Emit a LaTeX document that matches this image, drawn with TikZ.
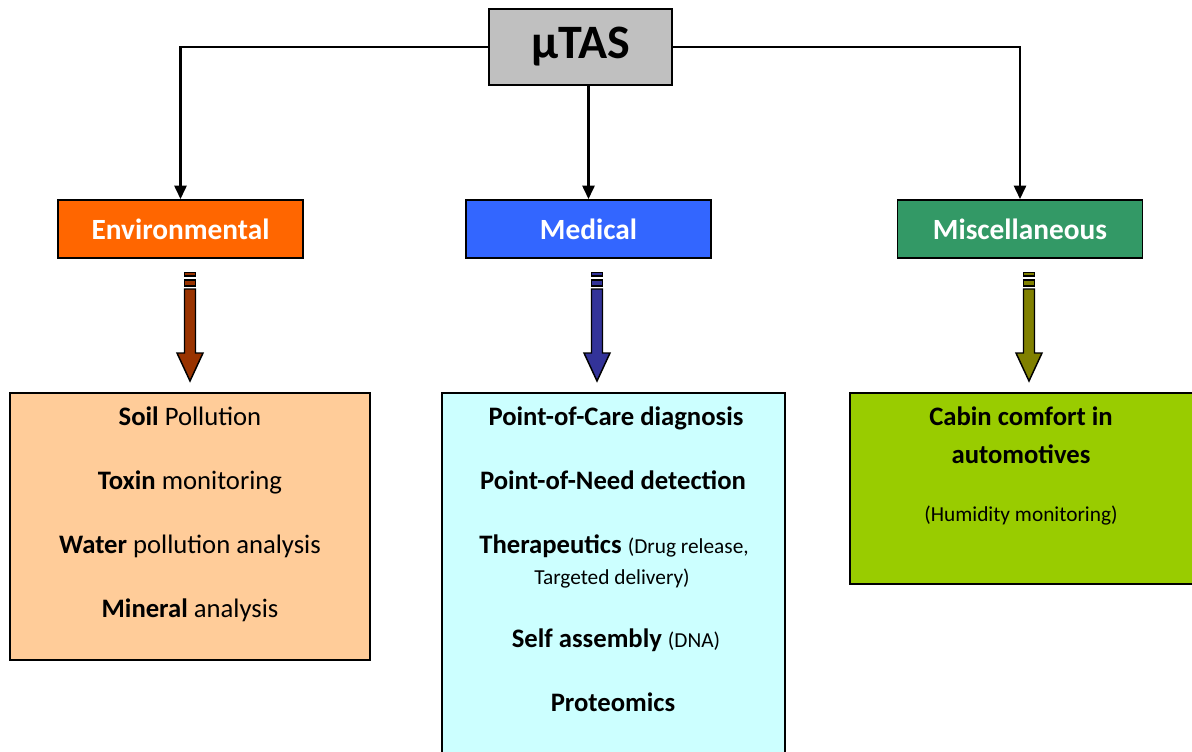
\documentclass[tikz,border=0pt]{standalone}
\usepackage{fontspec}
\setmainfont{Carlito}
\usetikzlibrary{positioning,arrows.meta}
\definecolor{topgray}{HTML}{C0C0C0}
\definecolor{envcol}{HTML}{FF6600}
\definecolor{medcol}{HTML}{3366FF}
\definecolor{misccol}{HTML}{339966}
\definecolor{envfill}{HTML}{FFCC99}
\definecolor{medfill}{HTML}{CCFFFF}
\definecolor{miscfill}{HTML}{99CC00}
\definecolor{envarr}{HTML}{993300}
\definecolor{medarr}{HTML}{333399}
\definecolor{miscarr}{HTML}{808000}

\begin{document}
\begin{tikzpicture}[x=0.75pt, y=-0.75pt,
    head/.style = {draw, line width=1.4pt, minimum width=183.75pt, minimum height=43.5pt, inner sep=0pt, text=white, font=\fontsize{22}{26}\selectfont\bfseries},
    panel/.style = {draw, line width=1.4pt, inner sep=0pt},
    item/.style = {anchor=base, font=\fontsize{20}{24}\selectfont},
    note/.style = {anchor=base, font=\fontsize{16}{19}\selectfont},
    link/.style = {line width=1.8pt, -{Triangle[length=10pt,width=9pt]}},
    blockarr/.style = {draw, line width=1.1pt}]
    \useasboundingbox (0,0) rectangle (1192,751);
    \clip (0,0) rectangle (1192,751);

    \node[draw, line width=1.4pt, fill=topgray, minimum width=137.25pt, minimum height=57pt, inner sep=0pt, font=\fontsize{36}{40}\selectfont\bfseries](top) at (580.5,47){μTAS};

    \node[head, fill=envcol](env) at (180.5,229){Environmental};
    \node[head, fill=medcol](med) at (588.5,229){Medical};
    \node[head, fill=misccol](misc) at (1020,229){Miscellaneous};

    \draw[link] (top.west) -| (env.north);
    \draw[link] (top.east) -| (misc.north);
    \draw[link] (top.south -| med.north) -- (med.north);

    % striped block arrows
    \foreach \cx/\col in {190/envarr, 597/medarr, 1029/miscarr} {
        \filldraw[blockarr, fill=\col] (\cx-5.5,272.5) rectangle (\cx+5.5,276);
        \filldraw[blockarr, fill=\col] (\cx-5.5,280) rectangle (\cx+5.5,286);
        \filldraw[blockarr, fill=\col] (\cx-5.5,289) -- (\cx+5.5,289) -- (\cx+5.5,353) -- (\cx+13,353)
            -- (\cx,381) -- (\cx-13,353) -- (\cx-5.5,353) -- cycle;
    }

    \node[panel, fill=envfill, minimum width=270pt, minimum height=200.25pt](envbox) at (190,526.5){};
    \node[panel, fill=medfill, minimum width=257.25pt, minimum height=283pt](medbox) at (613.5,581.5){};
    \node[panel, fill=miscfill, minimum width=270pt, minimum height=143.25pt](miscbox) at (1030,488.5){};

    \node[item](e1) at (190,425){\textbf{Soil} Pollution};
    \node[item](e2) at (190,489){\textbf{Toxin} monitoring};
    \node[item](e3) at (190,553){\textbf{Water} pollution analysis};
    \node[item](e4) at (190,617){\textbf{Mineral} analysis};

    \node[item](m1) at (616,425){\textbf{Point-of-Care diagnosis}};
    \node[item](m2) at (613,489){\textbf{Point-of-Need detection}};
    \node[item](m3) at (614,553){\textbf{Therapeutics} {\fontsize{16}{19}\selectfont(Drug release,}};
    \node[note](m4) at (612,584){Targeted delivery)};
    \node[item](m5) at (616,647){\textbf{Self assembly} {\fontsize{16}{19}\selectfont(DNA)}};
    \node[item](m6) at (613,711){\textbf{Proteomics}};

    \node[item](c1) at (1021,425){\textbf{Cabin comfort in}};
    \node[item](c2) at (1021,463){\textbf{automotives}};
    \node[note](c3) at (1021,521){(Humidity monitoring)};
\end{tikzpicture}
\end{document}
